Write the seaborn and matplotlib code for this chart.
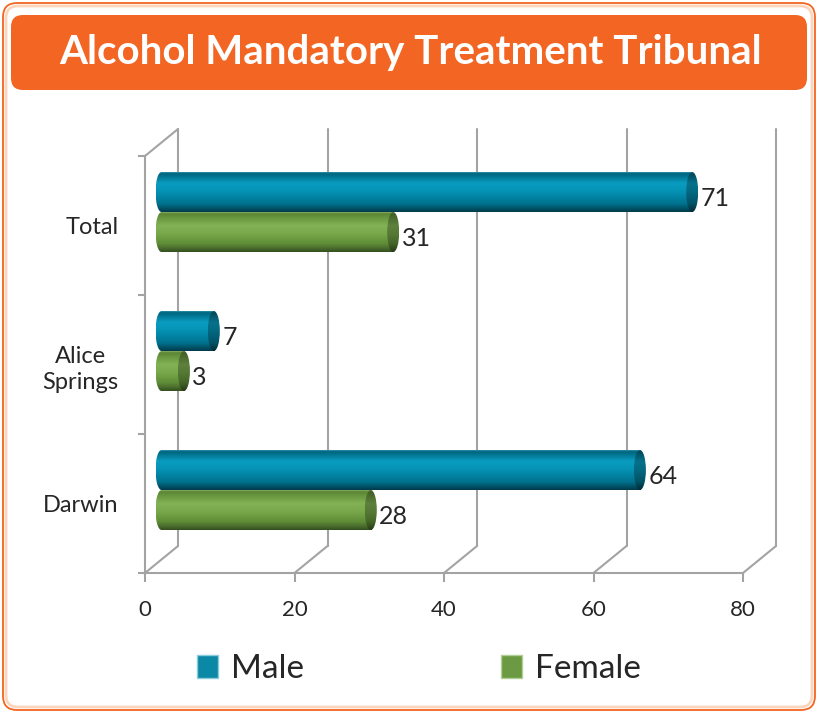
import numpy as np
import pandas as pd
import matplotlib
matplotlib.use('Agg')
import matplotlib.pyplot as plt
import matplotlib.transforms as mtransforms
from matplotlib.patches import Rectangle, Ellipse, FancyBboxPatch, Patch
from matplotlib.colors import LinearSegmentedColormap
import seaborn as sns

# ---- data ----
categories = ['Total', 'Alice Springs', 'Darwin']
tick_labels = ['Total', 'Alice\nSprings', 'Darwin']
series = ['Male', 'Female']
male = [71, 7, 64]
female = [31, 3, 28]
x_ticks = [0, 20, 40, 60, 80]
title = 'Alcohol Mandatory Treatment Tribunal'

sns.set_style('white')
plt.rcParams['font.family'] = ['Lato', 'DejaVu Sans']

W, H = 818, 713
fig = plt.figure(figsize=(W / 100, H / 100), dpi=100)

# ---- background frame & title banner (pixel coords) ----
bg = fig.add_axes([0, 0, 1, 1], zorder=-5)
bg.set_xlim(0, W)
bg.set_ylim(H, 0)
bg.axis('off')
bg.add_patch(FancyBboxPatch((3, 3), W - 6, H - 6, boxstyle='round,pad=0,rounding_size=14',
                            fc='white', ec='#f26522', lw=1.3))
bg.add_patch(FancyBboxPatch((6, 6), W - 12, H - 12, boxstyle='round,pad=0,rounding_size=12',
                            fc='none', ec='#fcd5bd', lw=2))
bg.add_patch(FancyBboxPatch((11, 15), W - 22, 75, boxstyle='round,pad=0,rounding_size=12',
                            fc='#f26522', ec='none'))
bg.text(411, 64, title, color='white', fontsize=29, fontweight='bold',
        ha='center', va='baseline')

# ---- main axes (front plane) ----
L, R, T, B = 145, 743, 156, 573
ax = fig.add_axes([L / W, 1 - B / H, (R - L) / W, (B - T) / H])
ax.patch.set_alpha(0)

df = pd.DataFrame({
    'category': categories * 2,
    'sex': ['Male'] * len(categories) + ['Female'] * len(categories),
    'value': male + female,
})
palette = {'Male': '#0a8fb0', 'Female': '#72a346'}
sns.barplot(data=df, x='value', y='category', hue='sex', order=categories,
            hue_order=series, palette=palette, orient='h', width=0.576,
            legend=False, ax=ax, saturation=1)

ax.set_xlim(0, 80)
ax.set_ylim(2.5, -0.5)

pxu = (R - L) / 80.0
DX = 33 / pxu
DY = 27 / ((B - T) / 3.0)
mid = mtransforms.Affine2D().translate(DX / 2, -DY / 2) + ax.transData
back = mtransforms.Affine2D().translate(DX, -DY) + ax.transData

# ---- 3D frame ----
gc = '#a3a3a3'
glw = 1.5
for xv in x_ticks:
    ax.plot([xv, xv], [-0.5, 2.5], transform=back, color=gc, lw=glw, zorder=1, clip_on=False)
    ax.plot([xv, xv + DX], [2.5, 2.5 - DY], color=gc, lw=glw, zorder=1, clip_on=False)
ax.plot([0, DX], [-0.5, -0.5 - DY], color=gc, lw=glw, zorder=1, clip_on=False)

# ---- cylinder shading ----
stops = {
    'Male': [(0.0, '#4aaec4'), (0.06, '#00647d'), (0.30, '#0a9dc1'), (0.50, '#0592b5'),
             (0.80, '#00728e'), (0.93, '#004e63'), (1.0, '#003b4b')],
    'Female': [(0.0, '#a5c883'), (0.06, '#5b8634'), (0.35, '#82b255'), (0.55, '#78a84a'),
               (0.80, '#5f8c37'), (0.93, '#45662a'), (1.0, '#34501d')],
}
grads = {}
caps = {}
for s in series:
    cm = LinearSegmentedColormap.from_list(s, stops[s])
    arr = cm(np.linspace(0, 1, 200))[:, None, :3]
    grads[s] = arr
    caps[s] = arr * 0.72

bars = list(ax.patches)
capw = 12 / pxu
values = {'Male': male, 'Female': female}
for si, s in enumerate(series):
    for ci, cat in enumerate(categories):
        p = bars[si * len(categories) + ci]
        p.set_visible(False)
        x0, y0, w, h = p.get_x(), p.get_y(), p.get_width(), p.get_height()
        yc = y0 + h / 2
        # left rounded end
        el = Ellipse((x0, yc), capw, h, transform=mid, fc='none', ec='none')
        ax.add_patch(el)
        im = ax.imshow(grads[s], extent=(x0 - capw / 2, x0 + capw / 2, y0 + h, y0),
                       transform=mid, aspect='auto', zorder=3, interpolation='bilinear')
        im.set_clip_path(el)
        # body
        rc = Rectangle((x0, y0), w, h, transform=mid, fc='none', ec='none')
        ax.add_patch(rc)
        im = ax.imshow(grads[s], extent=(x0, x0 + w, y0 + h, y0),
                       transform=mid, aspect='auto', zorder=3, interpolation='bilinear')
        im.set_clip_path(rc)
        # right end cap
        er = Ellipse((x0 + w, yc), capw, h, transform=mid, fc='none', ec='none')
        ax.add_patch(er)
        im = ax.imshow(caps[s], extent=(x0 + w - capw / 2, x0 + w + capw / 2, y0 + h, y0),
                       transform=mid, aspect='auto', zorder=4, interpolation='bilinear')
        im.set_clip_path(er)
        ax.annotate(f'{values[s][ci]}', xy=(x0 + w, yc), xycoords=mid,
                    xytext=(6, -5), textcoords='offset points', ha='left', va='center',
                    fontsize=18, color='#262626', zorder=5)

ax.set_xlim(0, 80)
ax.set_ylim(2.5, -0.5)

# ---- axes styling ----
for side in ['top', 'right']:
    ax.spines[side].set_visible(False)
for side in ['left', 'bottom']:
    ax.spines[side].set_color(gc)
    ax.spines[side].set_linewidth(glw)
    ax.spines[side].set_zorder(2)

ax.set_xticks(x_ticks)
ax.set_xticklabels([str(v) for v in x_ticks])
ax.tick_params(axis='x', bottom=True, length=6.5, width=glw, color=gc, pad=13,
               labelsize=16, labelcolor='#262626', direction='out')
ax.set_yticks([0, 1, 2])
ax.set_yticklabels(tick_labels)
ax.set_yticks([-0.5, 0.5, 1.5, 2.5], minor=True)
ax.tick_params(axis='y', which='major', left=False, length=0, pad=19,
               labelsize=17, labelcolor='#262626')
ax.tick_params(axis='y', which='minor', left=True, length=5, width=glw, color=gc,
               direction='out')
for lbl in ax.get_yticklabels():
    lbl.set_multialignment('center')
    lbl.set_linespacing(1.35)
ax.set_xlabel('')
ax.set_ylabel('')
ax.grid(False)

# ---- legend ----
handles = [Patch(fc='#0a88a6', ec='#8ccbdb', lw=1), Patch(fc='#6b9a42', ec='#b2cf95', lw=1)]
fig.legend(handles, series, loc='center', bbox_to_anchor=(419 / W, 1 - 669 / H), ncol=2,
           frameon=False, fontsize=24, handlelength=0.63, handleheight=0.66,
           handletextpad=0.4, columnspacing=5.9)

fig.savefig('out.png', dpi=100)
